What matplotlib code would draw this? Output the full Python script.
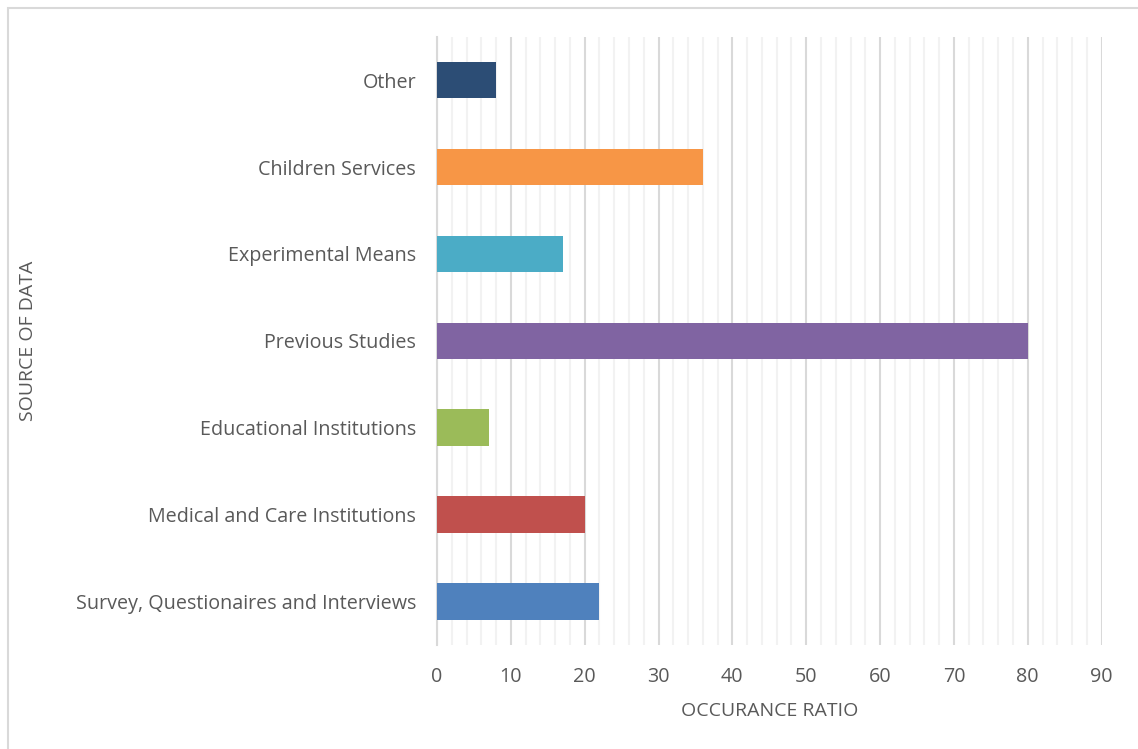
import matplotlib.pyplot as plt
from matplotlib.patches import Rectangle
from matplotlib.ticker import MultipleLocator

# data, bottom to top
sources = ["Survey, Questionaires and Interviews", "Medical and Care Institutions",
           "Educational Institutions", "Previous Studies", "Experimental Means",
           "Children Services", "Other"]
ratios = [22, 20, 7, 80, 17, 36, 8]
colors = ["#4F81BD", "#C0504D", "#9BBB59", "#8064A2", "#4BACC6", "#F79646", "#2C4D75"]

plt.rcParams['font.family'] = ['Open Sans', 'DejaVu Sans']
txt = "#595959"

fig = plt.figure(figsize=(11.38, 7.49), dpi=100)
ax = fig.add_axes([0.384, 0.139, 0.584, 0.812])

ax.barh(range(len(sources)), ratios, height=0.42, color=colors, zorder=3)

ax.set_xlim(0, 90)
ax.set_ylim(-0.5, len(sources) - 0.5)
ax.xaxis.set_major_locator(MultipleLocator(10))
ax.xaxis.set_minor_locator(MultipleLocator(2))
ax.grid(axis='x', which='major', color="#D9D9D9", linewidth=1.5, zorder=1)
ax.grid(axis='x', which='minor', color="#F2F2F2", linewidth=1.5, zorder=0)
ax.set_yticks(range(len(sources)))
ax.set_yticklabels(sources)
ax.tick_params(axis='both', which='both', length=0, labelsize=14.2, colors=txt)
ax.tick_params(axis='x', pad=16)
ax.tick_params(axis='y', pad=15)
for s in ["top", "right", "bottom"]:
    ax.spines[s].set_visible(False)
ax.spines["left"].set_color("#D9D9D9")
ax.spines["left"].set_linewidth(1.5)

ax.set_xlabel("OCCURANCE RATIO", color=txt, fontsize=14, labelpad=11)
fig.text(0.025, 0.545, "SOURCE OF DATA", rotation=90, color=txt, fontsize=14,
         ha='center', va='center')

fig.patches.append(Rectangle((0.007, -0.01), 1.0, 0.999, transform=fig.transFigure,
                             fill=False, edgecolor="#D9D9D9", linewidth=1.5))

fig.savefig("out.png", dpi=100)
